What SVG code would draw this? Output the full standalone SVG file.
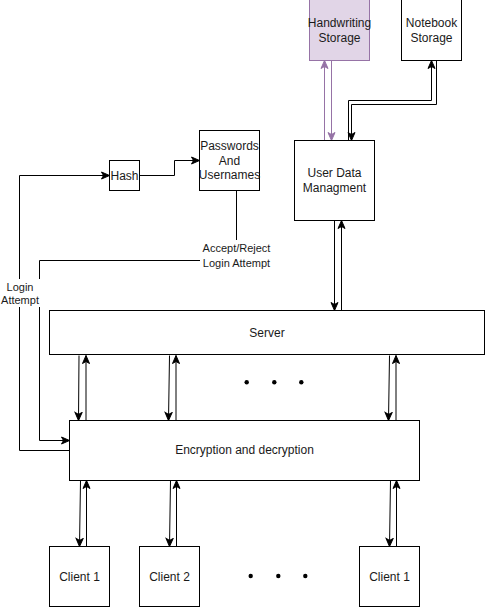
<svg xmlns="http://www.w3.org/2000/svg" width="485" height="607" viewBox="0 0 485 607">
<style>
.box{fill:#ffffff;stroke:#000000;stroke-width:1}
.pbox{fill:#e1d5e7;stroke:#9673a6;stroke-width:1}
.t{font-family:"Liberation Sans",Arial,sans-serif;font-size:12px;fill:#1a1a1a;text-anchor:middle}
.s{font-family:"Liberation Sans",Arial,sans-serif;font-size:11px;fill:#1a1a1a;text-anchor:middle}
.c{fill:none;stroke:#000000;stroke-width:1}
.cp{fill:none;stroke:#9673a6;stroke-width:1}
.a{marker-end:url(#arr)}
.ap{marker-end:url(#arrp)}
.dot{fill:#000000}
</style>
<defs>
<marker id="arr" markerUnits="userSpaceOnUse" markerWidth="10" markerHeight="10" viewBox="0 0 10 10" refX="9" refY="5" orient="auto">
<path d="M1,1.5 L9,5 L1,8.5 L3,5 Z" fill="#000000" stroke="#000000" stroke-width="1"/>
</marker>
<marker id="arrp" markerUnits="userSpaceOnUse" markerWidth="10" markerHeight="10" viewBox="0 0 10 10" refX="9" refY="5" orient="auto">
<path d="M1,1.5 L9,5 L1,8.5 L3,5 Z" fill="#9673a6" stroke="#9673a6" stroke-width="1"/>
</marker>
</defs>

<g id="connectors">
<!-- handwriting -->
<path class="cp ap" d="M324.5,140.5 L324.5,60.5"/>
<path class="cp ap" d="M331.5,60.5 L331.5,140.5"/>
<!-- notebook -->
<path class="c a" d="M348.5,140.5 L348.5,100.5 L431.5,100.5 L431.5,60.5"/>
<path class="c a" d="M436.5,60.5 L436.5,104.5 L351.5,104.5 L351.5,140.5"/>
<!-- user data / server -->
<path class="c a" d="M334.5,220.5 L334.5,310.5"/>
<path class="c a" d="M341.5,310.5 L341.5,220.5"/>
<!-- hash -->
<path class="c a" d="M139.5,175.5 L174.5,175.5 L174.5,160.5 L199.5,160.5"/>
<!-- login attempt -->
<path class="c a" d="M69.5,450.5 L19.5,450.5 L19.5,175.5 L109.5,175.5"/>
<!-- accept/reject -->
<path class="c a" d="M236.5,190.5 L236.5,260.5 L39.5,260.5 L39.5,440.5 L69.5,440.5"/>
<!-- server / encryption -->
<path class="c a" d="M79,355.5 L78.5,420.5"/>
<path class="c a" d="M86,420.5 L86,355.5"/>
<path class="c a" d="M169.5,355.5 L168.5,420.5"/>
<path class="c a" d="M176,420.5 L176,355.5"/>
<path class="c a" d="M389.5,355.5 L388.5,420.5"/>
<path class="c a" d="M396,420.5 L396,355.5"/>
<!-- encryption / clients -->
<path class="c a" d="M80.5,480.5 L79.5,546.5"/>
<path class="c a" d="M86.5,546.5 L86.5,480.5"/>
<path class="c a" d="M170.5,480.5 L169.5,546.5"/>
<path class="c a" d="M176.5,546.5 L176.5,480.5"/>
<path class="c a" d="M390.5,480.5 L389.5,546.5"/>
<path class="c a" d="M396.5,546.5 L396.5,480.5"/>
</g>

<g id="label-login">
<rect x="0" y="279" width="40" height="28" fill="#ffffff"/>
<text class="s" x="20" y="290.5">Login</text>
<text class="s" x="20" y="303.5">Attempt</text>
</g>
<g id="label-accept">
<rect x="200" y="240" width="73" height="28" fill="#ffffff"/>
<text class="s" x="236.5" y="252">Accept/Reject</text>
<text class="s" x="236.5" y="266.5">Login Attempt</text>
</g>

<g id="handwriting">
<rect class="pbox" x="309.5" y="-0.5" width="60" height="61"/>
<text class="t" x="339.5" y="27">Handwriting</text>
<text class="t" x="339.5" y="41.5">Storage</text>
</g>
<g id="notebook">
<rect class="box" x="401.5" y="-0.5" width="60" height="61"/>
<text class="t" x="431.5" y="27">Notebook</text>
<text class="t" x="431.5" y="41.5">Storage</text>
</g>
<g id="userdata">
<rect class="box" x="294.5" y="140.5" width="80" height="80"/>
<text class="t" x="334.5" y="177">User Data</text>
<text class="t" x="334.5" y="192">Managment</text>
</g>
<g id="hash">
<rect class="box" x="109.5" y="160.5" width="30" height="30"/>
<text class="t" x="124.5" y="179.5">Hash</text>
</g>
<g id="passwords">
<rect class="box" x="199.5" y="130.5" width="60" height="60"/>
<text class="t" x="229.5" y="150">Passwords</text>
<text class="t" x="229.5" y="164.5">And</text>
<text class="t" x="229.5" y="179">Usernames</text>
</g>
<g id="server">
<rect class="box" x="49.5" y="310.5" width="435" height="44"/>
<text class="t" x="267" y="337">Server</text>
</g>
<g id="encryption">
<rect class="box" x="69.5" y="420.5" width="350" height="60"/>
<text class="t" x="244.5" y="454">Encryption and decryption</text>
</g>
<g id="client1">
<rect class="box" x="49.5" y="546.5" width="60" height="60"/>
<text class="t" x="79.5" y="580.5">Client 1</text>
</g>
<g id="client2">
<rect class="box" x="139.5" y="546.5" width="60" height="60"/>
<text class="t" x="169.5" y="580.5">Client 2</text>
</g>
<g id="client3">
<rect class="box" x="359.5" y="546.5" width="60" height="60"/>
<text class="t" x="389.5" y="580.5">Client 1</text>
</g>
<g id="dots">
<circle class="dot" cx="246.7" cy="382.3" r="2.2"/>
<circle class="dot" cx="274.3" cy="382.3" r="2.2"/>
<circle class="dot" cx="301.3" cy="382.3" r="2.2"/>
<circle class="dot" cx="250.7" cy="576" r="2.2"/>
<circle class="dot" cx="278.3" cy="576" r="2.2"/>
<circle class="dot" cx="305.3" cy="576" r="2.2"/>
</g>
</svg>
